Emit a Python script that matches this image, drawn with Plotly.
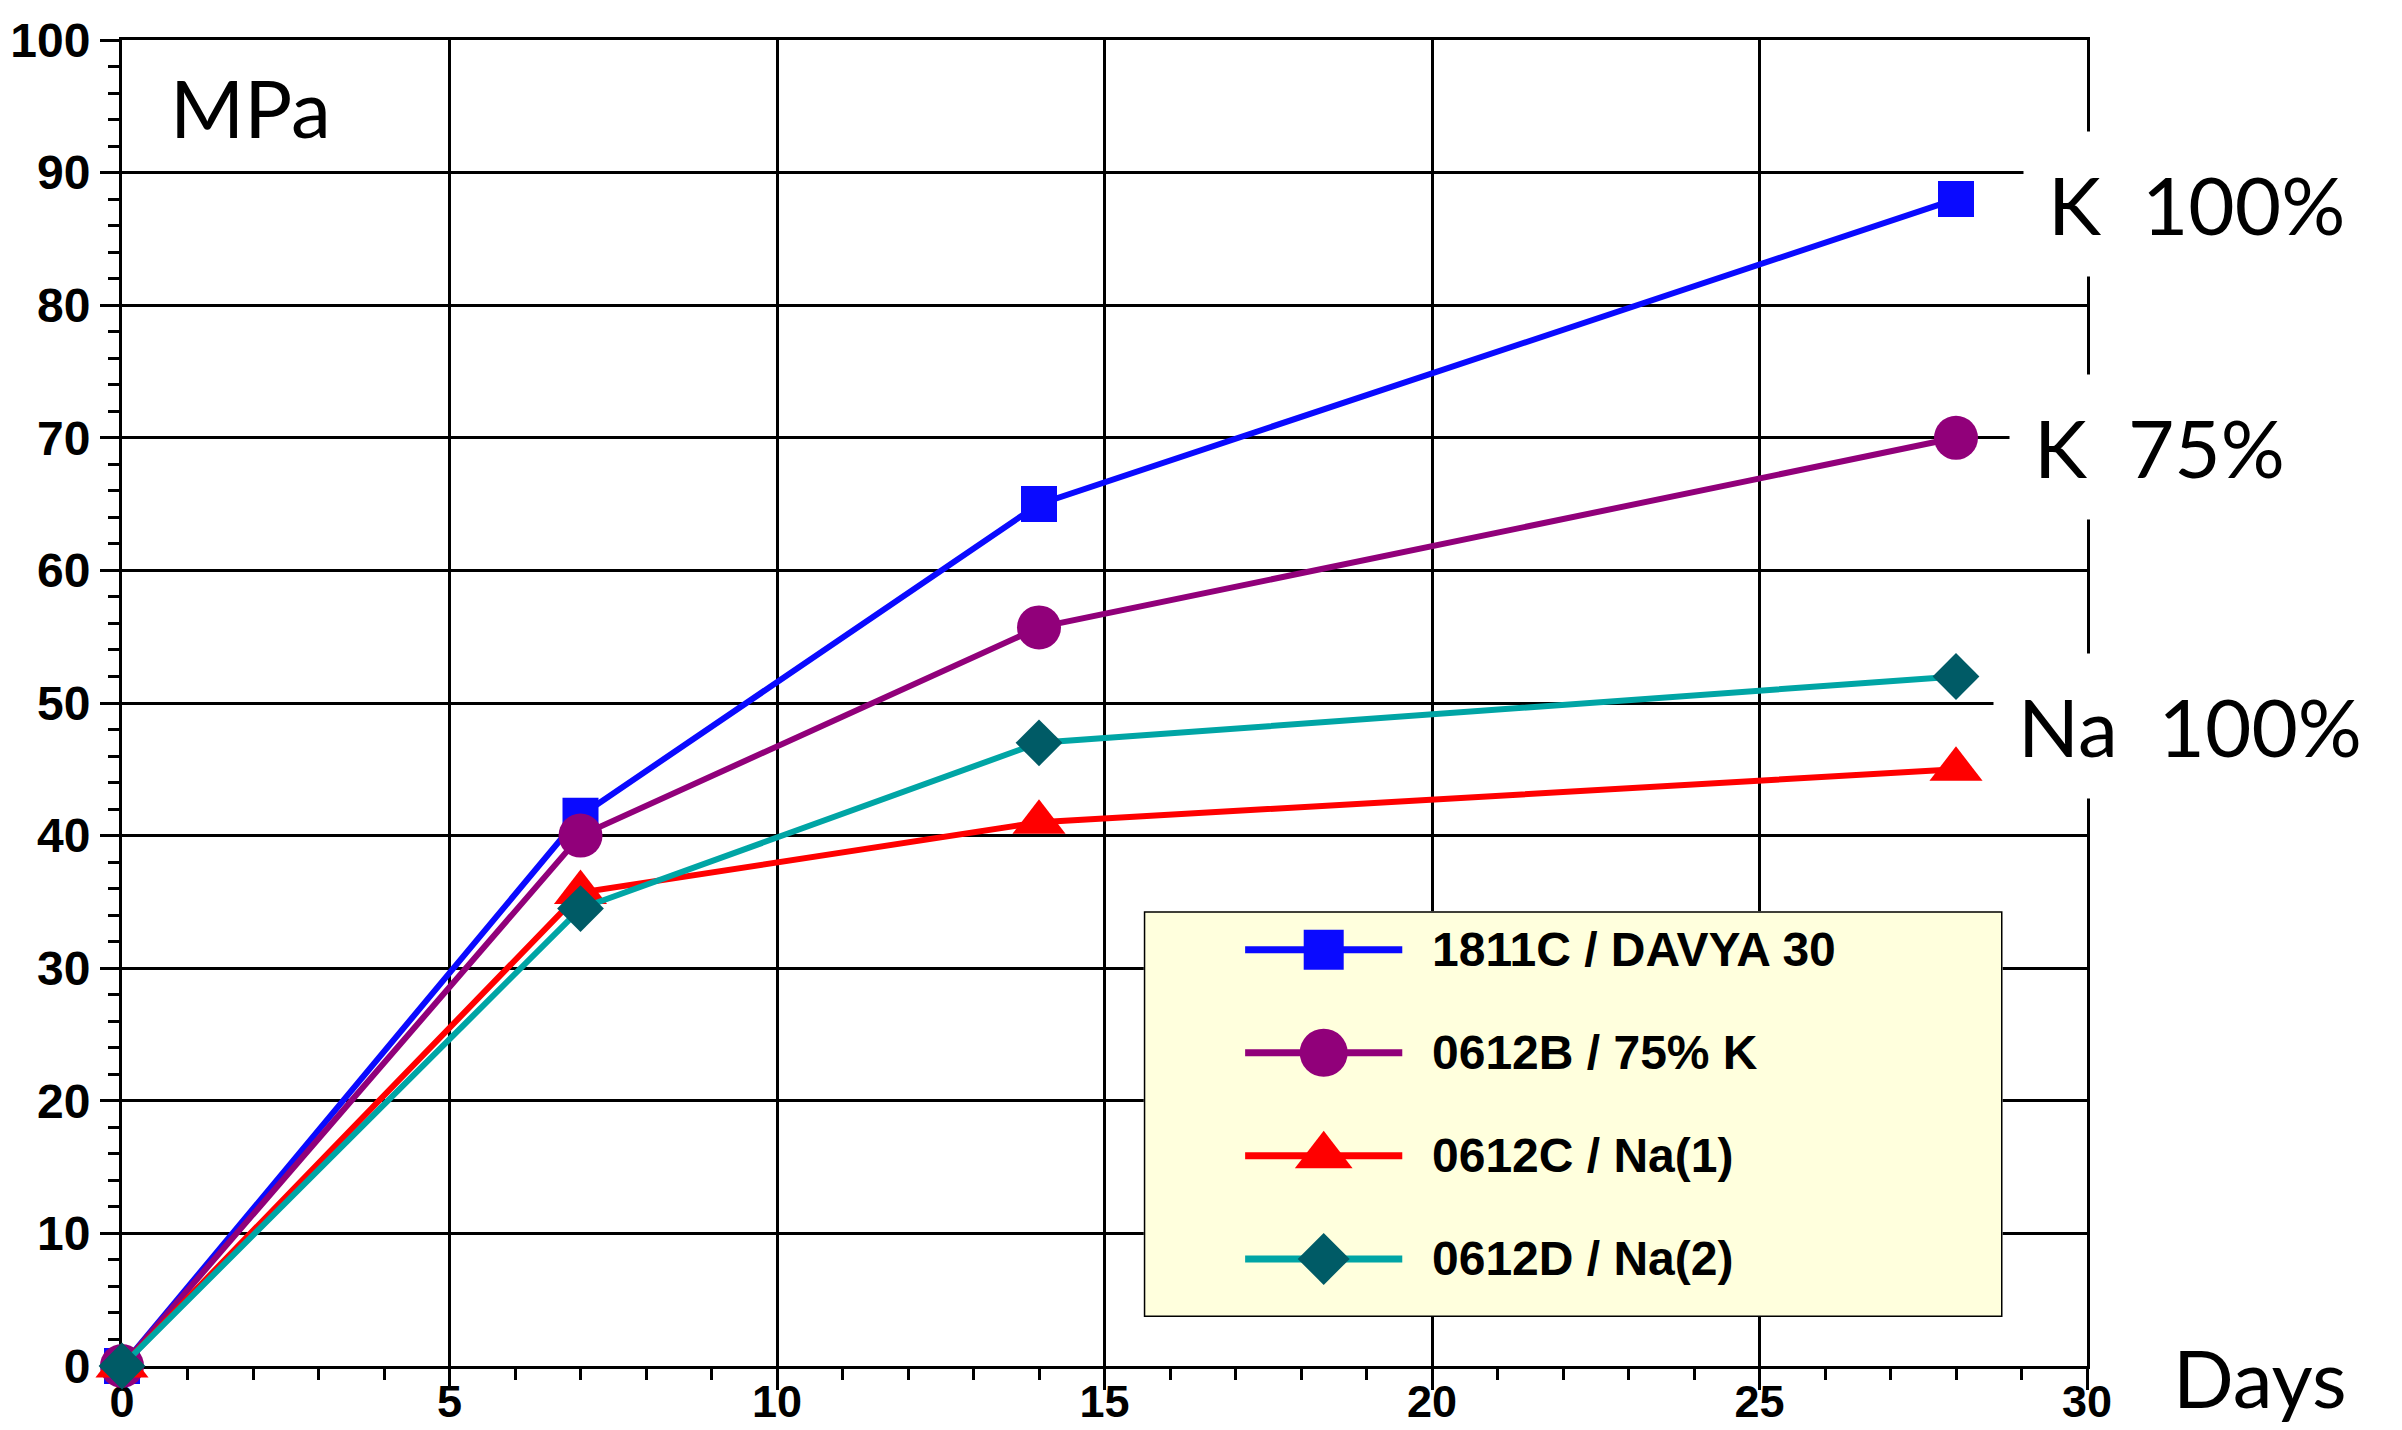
import plotly.graph_objects as go

# Compressive strength development (MPa) against curing age (days)
days = [0, 7, 14, 28]
series_names = ["1811C / DAVYA 30", "0612B / 75% K", "0612C / Na(1)", "0612D / Na(2)"]
strength_1811C = [0, 41.5, 65, 88]
strength_0612B = [0, 40, 55.7, 70]
strength_0612C = [0, 35.7, 41, 45]
strength_0612D = [0, 34.5, 47, 52]
series_values = [strength_1811C, strength_0612B, strength_0612C, strength_0612D]

x_ticks = [0, 5, 10, 15, 20, 25, 30]
y_ticks = [0, 10, 20, 30, 40, 50, 60, 70, 80, 90, 100]

end_labels = ["K  100%", "K  75%", "Na  100%"]

# styling
line_colors = ["#0A0AFF", "#91007A", "#FF0000", "#00A5A5"]
marker_colors = ["#0A0AFF", "#91007A", "#FF0000", "#005B66"]
marker_symbols = ["square", "circle", "triangle-up", "diamond"]
marker_sizes = [36, 44, 46, 36]
label_x = [29.02, 28.81, 28.56]
label_y = [87.6, 69.3, 48.3]

tick_font = dict(family="Liberation Sans, Arial", size=48, color="black", weight="bold")
big_font = dict(family="Lato, Open Sans", size=80, color="black")

fig = go.Figure()

for name, vals, lc, mc, sym, ms in zip(series_names, series_values, line_colors,
                                       marker_colors, marker_symbols, marker_sizes):
    fig.add_trace(go.Scatter(
        x=days, y=vals, name=name, mode="lines+markers",
        line=dict(color=lc, width=6),
        marker=dict(color=mc, symbol=sym, size=ms, line=dict(width=0)),
        cliponaxis=False, showlegend=False,
    ))

# hand-built legend panel on its own small subplot
fig.add_trace(go.Scatter(
    x=[0, 1, 1, 0, 0], y=[0, 0, 1, 1, 0], mode="lines", fill="toself",
    fillcolor="#FFFFDD", line=dict(color="black", width=3),
    xaxis="x2", yaxis="y2", cliponaxis=False, showlegend=False, hoverinfo="skip",
))
key_x0, key_x1, text_x = 0.118, 0.301, 0.333
for i, (name, lc, mc, sym, ms) in enumerate(zip(series_names, line_colors, marker_colors,
                                                marker_symbols, marker_sizes)):
    ry = 0.905 - i * 0.254
    fig.add_trace(go.Scatter(
        x=[key_x0, key_x1], y=[ry, ry], mode="lines", line=dict(color=lc, width=7),
        xaxis="x2", yaxis="y2", showlegend=False, hoverinfo="skip", cliponaxis=False,
    ))
    fig.add_trace(go.Scatter(
        x=[(key_x0 + key_x1) / 2], y=[ry], mode="markers",
        marker=dict(color=mc, symbol=sym, size=ms + 4, line=dict(width=0)),
        xaxis="x2", yaxis="y2", showlegend=False, hoverinfo="skip", cliponaxis=False,
    ))
    fig.add_annotation(x=text_x, y=ry, xref="x2", yref="y2", text=name, showarrow=False,
                       xanchor="left", yanchor="middle",
                       font=dict(family="Liberation Sans, Arial", size=48, color="black",
                                 weight="bold"))

for txt, lx, ly in zip(end_labels, label_x, label_y):
    fig.add_annotation(x=lx, y=ly, xref="x", yref="y", text=txt, showarrow=False,
                       xanchor="left", yanchor="middle", bgcolor="white",
                       borderpad=24, font=big_font)

fig.add_annotation(x=0.0234, y=0.9495, xref="paper", yref="paper", text="MPa",
                   showarrow=False, xanchor="left", yanchor="middle", font=big_font)
fig.add_annotation(x=1.043, y=-0.008, xref="paper", yref="paper", text="Days",
                   showarrow=False, xanchor="left", yanchor="middle", font=big_font)

axis_common = dict(
    showgrid=True, gridcolor="black", gridwidth=2.5,
    showline=True, linecolor="black", linewidth=3, mirror=True,
    ticks="outside", tickwidth=3, tickcolor="black",
    zeroline=False, layer="below traces", automargin=False,
)

fig.update_layout(
    width=2402, height=1430,
    margin=dict(l=122, r=315, t=40, b=64),
    paper_bgcolor="white", plot_bgcolor="white",
    showlegend=False,
    xaxis=dict(range=[0, 30], tickvals=x_ticks, ticklen=21, ticklabelstandoff=-27,
               tickfont=dict(tick_font, size=45),
               minor=dict(dtick=1, ticks="outside", ticklen=11, tickwidth=3,
                          tickcolor="black", showgrid=False),
               **axis_common),
    yaxis=dict(range=[0, 100], tickvals=y_ticks, ticklen=19, tickfont=tick_font,
               minor=dict(dtick=2, ticks="outside", ticklen=11, tickwidth=3,
                          tickcolor="black", showgrid=False),
               **axis_common),
    xaxis2=dict(domain=[0.520, 0.957], range=[0, 1], visible=False, anchor="y2",
                fixedrange=True),
    yaxis2=dict(domain=[0.037, 0.343], range=[0, 1], visible=False, anchor="x2",
                fixedrange=True),
)

fig.write_html("out.html")
